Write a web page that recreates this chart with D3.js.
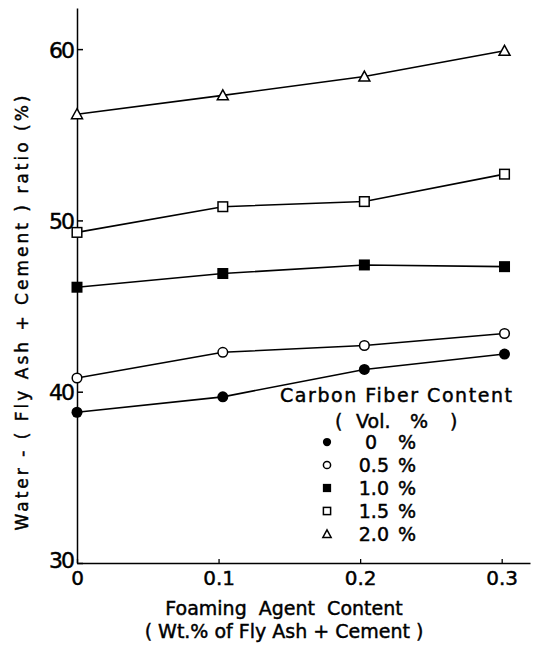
<!DOCTYPE html>
<html><head><meta charset="utf-8">
<script src="https://cdn.jsdelivr.net/npm/d3@7/dist/d3.min.js"></script>
<style>body{margin:0;background:#fff}svg{display:block}text{font-family:"DejaVu Sans",sans-serif;fill:#000;stroke:#000;stroke-width:0.45px}</style>
</head><body><svg id="c" width="536" height="651"></svg>
<script>
const xValues = [0, 0.103, 0.203, 0.302];
const fiberLabels = ["0", "0.5", "1.0", "1.5", "2.0"];
const markerTypes = ["circleFilled", "circleOpen", "squareFilled", "squareOpen", "triangleOpen"];
const s0 = [38.8, 39.7, 41.3, 42.2];
const s05 = [40.8, 42.3, 42.7, 43.4];
const s10 = [46.1, 46.9, 47.4, 47.3];
const s15 = [49.3, 50.8, 51.1, 52.7];
const s20 = [56.2, 57.3, 58.4, 59.9];
const seriesValues = [s0, s05, s10, s15, s20];
const yTicks = [30, 40, 50, 60];
const xTicks = [0, 0.1, 0.2, 0.3];
const yTitle = "Water - ( Fly Ash + Cement ) ratio (%)";
const xTitle1 = "Foaming  Agent  Content";
const xTitle2 = "( Wt.% of Fly Ash + Cement )";
const legendTitle = "Carbon Fiber Content";

const svg = d3.select("#c");
const x = d3.scaleLinear().domain([0, 0.32]).range([77, 530]);
const y = d3.scaleLinear().domain([30, 62.4]).range([563, 8]);

// axes
const yAx = svg.append("g").attr("transform", `translate(${x(0)},0)`)
  .call(d3.axisLeft(y).tickValues(yTicks).tickFormat(d3.format("d")).tickSizeInner(-6).tickSizeOuter(0).tickPadding(4));
yAx.selectAll("path,line").attr("stroke", "#000").attr("stroke-width", 1.5);
yAx.selectAll("text").style("font-size", "22px").attr("dy", "0.36em").style("letter-spacing", "-2px");
yAx.selectAll(".tick").filter(d => d === 30).select("text").attr("dy", "0.2em");

const xAx = svg.append("g").attr("transform", `translate(0,${y(30)})`)
  .call(d3.axisBottom(x).tickValues(xTicks).tickFormat(d => d === 0 ? "0" : d3.format(".1f")(d)).tickSizeInner(-4).tickSizeOuter(0).tickPadding(8));
xAx.selectAll("path,line").attr("stroke", "#000").attr("stroke-width", 1.3);
xAx.selectAll("text").style("font-size", "20px");

// lines
const line = d3.line().x((d, i) => x(xValues[i])).y(d => y(d));
seriesValues.forEach(vals => {
  svg.append("path").attr("d", line(vals)).attr("fill", "none").attr("stroke", "#000").attr("stroke-width", 1.6);
});

function marker(g, type, cx, cy, s) {
  const sw = 1.5;
  if (type === "circleFilled") g.append("circle").attr("cx", cx).attr("cy", cy).attr("r", 5.5 * s).attr("fill", "#000");
  else if (type === "circleOpen") g.append("circle").attr("cx", cx).attr("cy", cy).attr("r", 4.8 * s).attr("fill", "#fff").attr("stroke", "#000").attr("stroke-width", sw);
  else if (type === "squareFilled") g.append("rect").attr("x", cx - 5.5 * s).attr("y", cy - 5.5 * s).attr("width", 11 * s).attr("height", 11 * s).attr("fill", "#000");
  else if (type === "squareOpen") g.append("rect").attr("x", cx - 4.8 * s).attr("y", cy - 4.8 * s).attr("width", 9.6 * s).attr("height", 9.6 * s).attr("fill", "#fff").attr("stroke", "#000").attr("stroke-width", sw);
  else {
    const h = 10 * s, w = 11 * s;
    g.append("path").attr("d", `M${cx},${cy - h * 0.55}L${cx + w / 2},${cy + h * 0.45}L${cx - w / 2},${cy + h * 0.45}Z`).attr("fill", "#fff").attr("stroke", "#000").attr("stroke-width", sw);
  }
}
const mg = svg.append("g");
seriesValues.forEach((vals, k) => vals.forEach((v, i) => marker(mg, markerTypes[k], x(xValues[i]), y(v), 1)));

// legend
const lg = svg.append("g");
lg.append("text").attr("x", 280).attr("y", 402).attr("textLength", 232).style("font-size", "19px").text(legendTitle);
lg.append("text").attr("x", 335).attr("y", 428).style("font-size", "19px").text("(");
lg.append("text").attr("x", 356).attr("y", 428).style("font-size", "19px").text("Vol.");
lg.append("text").attr("x", 410).attr("y", 428).style("font-size", "19px").text("%");
lg.append("text").attr("x", 450).attr("y", 428).style("font-size", "19px").text(")");
fiberLabels.forEach((lab, i) => {
  const by = 449 + 23 * i;
  marker(lg, markerTypes[i], 327, by - 7, 0.75);
  lg.append("text").attr("x", lab === "0" ? 371 : 389).attr("y", by).attr("text-anchor", lab === "0" ? "middle" : "end").style("font-size", "19px").text(lab);
  lg.append("text").attr("x", 398).attr("y", by).style("font-size", "19px").text("%");
});

// titles
svg.append("text").attr("transform", "translate(28,313) rotate(-90)").attr("text-anchor", "middle").attr("textLength", 435).style("font-size", "17px").text(yTitle);
svg.append("text").attr("x", 284).attr("y", 615).attr("text-anchor", "middle").attr("xml:space", "preserve").style("font-size", "19px").text(xTitle1);
svg.append("text").attr("x", 284).attr("y", 638).attr("text-anchor", "middle").attr("xml:space", "preserve").style("font-size", "19px").text(xTitle2);
</script></body></html>
